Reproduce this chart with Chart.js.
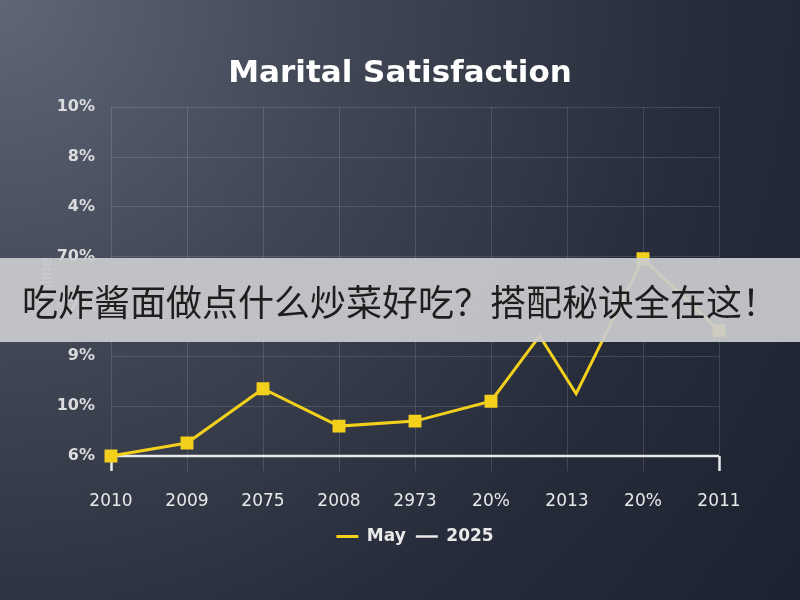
<!DOCTYPE html>
<html>
<head>
<meta charset="utf-8">
<script src="https://cdn.jsdelivr.net/npm/chart.js@4"></script>
<style>
  html, body { margin: 0; padding: 0; }
  #wrap {
    position: relative; width: 800px; height: 600px; overflow: hidden;
    background: radial-gradient(circle at 0% 0%, #5f6676 0%, #404654 35%, #272c3a 70%, #1d2231 100%);
  }
  #banner {
    position: absolute; left: 0; top: 258px; width: 800px; height: 84px;
    background: rgba(202, 203, 206, 0.93);
    font-family: "Noto Sans CJK SC", sans-serif; font-size: 36px; color: #1e1e1e;
    line-height: 84px; padding-left: 22px; box-sizing: border-box; white-space: nowrap;
  }
</style>
</head>
<body>
<div id="wrap">
  <canvas id="chart" width="800" height="600"></canvas>
  <div id="banner">吃炸酱面做点什么炒菜好吃？搭配秘诀全在这！</div>
</div>
<script>
// === Data ===
const xLabels = ['2010', '2009', '2075', '2008', '2973', '20%', '2013', '20%', '2011'];
const yLabels = ['6%', '10%', '9%', '7%', '70%', '4%', '8%', '10%']; // bottom -> top
const mayX = [0, 1, 2, 3, 4, 5, 5.64, 6.12, 7, 8];
const mayY = [0, 0.26, 1.35, 0.6, 0.7, 1.1, 2.41, 1.25, 3.96, 2.52];
const mayMarker = [7, 7, 7, 7, 7, 7, 0, 0, 7, 7];
const baseX = [0, 8];
const baseY = [0, 0];

const YELLOW = '#f3d01c';
const WHITE = '#e9e9ea';
const GRID = 'rgba(255,255,255,0.13)';
const lastX = xLabels.length - 1;

new Chart(document.getElementById('chart'), {
  type: 'line',
  data: {
    datasets: [
      {
        label: 'May',
        data: mayX.map((x, i) => ({ x, y: mayY[i] })),
        borderColor: YELLOW,
        backgroundColor: YELLOW,
        borderWidth: 3,
        pointStyle: 'rect',
        pointRadius: mayMarker,
        pointHoverRadius: mayMarker,
        tension: 0,
        clip: false
      },
      {
        label: '2025',
        data: baseX.map((x, i) => ({ x, y: baseY[i] })),
        borderColor: WHITE,
        backgroundColor: WHITE,
        borderWidth: 2.5,
        pointRadius: 0,
        clip: false
      }
    ]
  },
  options: {
    responsive: false,
    animation: false,
    devicePixelRatio: 1,
    layout: { padding: { top: 40, right: 0, bottom: 45, left: 0 } },
    plugins: {
      title: {
        display: true,
        text: 'Marital Satisfaction',
        color: '#ffffff',
        font: { family: 'DejaVu Sans', size: 31, weight: 'bold' },
        padding: { top: 15, bottom: 15 }
      },
      legend: {
        position: 'bottom',
        fullSize: false,
        labels: {
          color: WHITE,
          font: { family: 'DejaVu Sans', size: 17, weight: 'bold' },
          usePointStyle: true,
          pointStyle: 'line',
          pointStyleWidth: 22,
          boxWidth: 22,
          padding: 10
        }
      },
      tooltip: { enabled: false }
    },
    scales: {
      x: {
        type: 'linear',
        min: 0,
        max: lastX,
        border: { display: false },
        grid: {
          color: GRID,
          tickLength: 15,
          tickColor: c => (c.index === 0 || c.index === lastX) ? WHITE : GRID,
          tickWidth: c => (c.index === 0 || c.index === lastX) ? 2.5 : 1
        },
        ticks: {
          stepSize: 1,
          autoSkip: false,
          maxRotation: 0,
          color: WHITE,
          padding: 20,
          font: { family: 'DejaVu Sans', size: 17 },
          callback: v => xLabels[v]
        },
        afterFit: s => { s.height = 62; }
      },
      y: {
        min: 0,
        max: yLabels.length - 1,
        border: { display: false },
        grid: { color: GRID, drawTicks: false },
        ticks: {
          stepSize: 1,
          color: '#dcdcdf',
          padding: 16,
          font: { family: 'DejaVu Sans', size: 16, weight: 'bold' },
          callback: v => yLabels[v]
        },
        title: {
          display: true,
          text: 'Online',
          color: 'rgba(235,235,240,0.85)',
          font: { family: 'DejaVu Sans', size: 15 },
          padding: { top: 38, bottom: 0 }
        },
        afterFit: s => { s.width = 111; }
      },
      // empty right-hand gutter so the plot ends where the reference's does
      gutter: {
        type: 'linear',
        position: 'right',
        display: true,
        grid: { display: false },
        border: { display: false },
        ticks: { display: false },
        afterFit: s => { s.width = 81; }
      }
    }
  }
});
</script>
</body>
</html>
